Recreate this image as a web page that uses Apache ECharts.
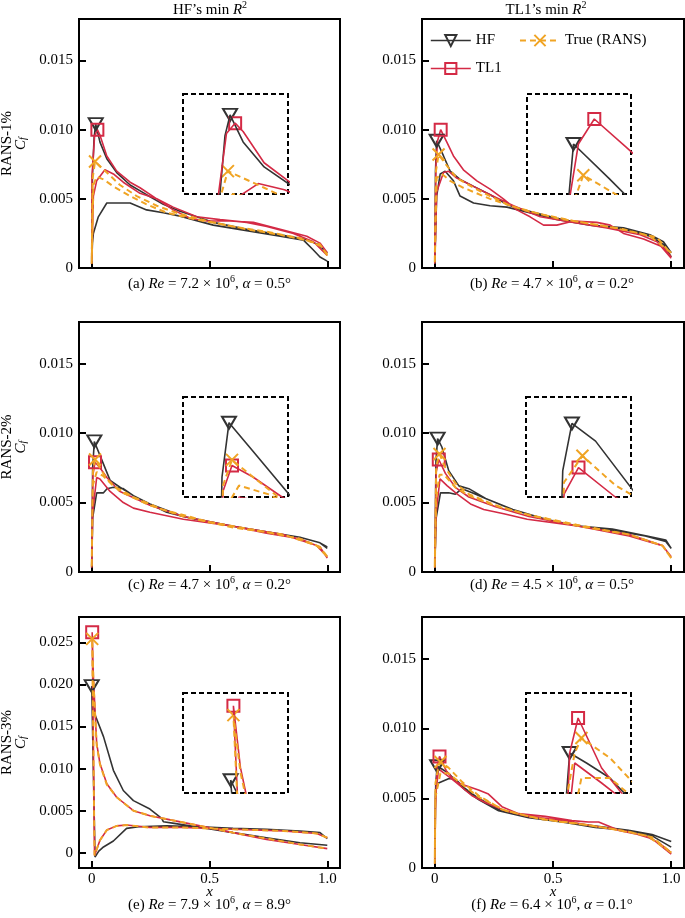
<!DOCTYPE html>
<html><head><meta charset="utf-8">
<script src="https://cdn.jsdelivr.net/npm/echarts@6/dist/echarts.min.js"></script>
<style>html,body{margin:0;padding:0;background:#fff}#c{width:685px;height:918px}</style>
</head><body><div id="c"></div>
<script>
// ---------------- DATA (x, Cf) ----------------
// Panel (a)
const a_HF_1 = [[0,0.0003],[0.003,0.0066],[0.010,0.0094],[0.017,0.0104],[0.035,0.0091],[0.064,0.0079],[0.106,0.0069],[0.163,0.0060],[0.233,0.0053],[0.304,0.0046],[0.375,0.0041],[0.516,0.0033],[0.658,0.0028],[0.8,0.0024],[0.913,0.00205],[0.96,0.0017],[1.0,0.0011]];
const a_HF_2 = [[0,0.0003],[0.003,0.0018],[0.007,0.0025],[0.028,0.0037],[0.064,0.0047],[0.163,0.0047],[0.233,0.0042],[0.304,0.0040],[0.375,0.00375],[0.516,0.0031],[0.658,0.0027],[0.8,0.0023],[0.9,0.0020],[0.941,0.0013],[0.969,0.0008],[1.0,0.0005]];
const a_TL1_1 = [[0,0.0003],[0.001,0.0066],[0.012,0.0095],[0.024,0.0100],[0.035,0.0096],[0.064,0.0081],[0.106,0.0070],[0.163,0.0062],[0.205,0.0058],[0.276,0.0050],[0.346,0.0044],[0.446,0.0037],[0.545,0.0035],[0.658,0.0033],[0.743,0.0030],[0.856,0.0025],[0.941,0.0019],[1.0,0.0009]];
const a_TL1_2 = [[0,0.0003],[0.007,0.0052],[0.021,0.0063],[0.056,0.0071],[0.092,0.0068],[0.134,0.0062],[0.205,0.0054],[0.276,0.0050],[0.346,0.0042],[0.417,0.0036],[0.488,0.0034],[0.587,0.0034],[0.686,0.0033],[0.8,0.0028],[0.913,0.0023],[0.969,0.0018],[1.0,0.0011]];
const a_TR_1 = [[0,0.0003],[0.004,0.0065],[0.014,0.0077],[0.064,0.0069],[0.12,0.0060],[0.191,0.0052],[0.276,0.0045],[0.375,0.0039],[0.516,0.0033],[0.658,0.0028],[0.8,0.0024],[0.913,0.0020],[0.969,0.0017],[1.0,0.0009]];
const a_TR_2 = [[0,0.0003],[0.007,0.0060],[0.021,0.0066],[0.05,0.0064],[0.092,0.0059],[0.163,0.0052],[0.233,0.0046],[0.318,0.0040],[0.446,0.0035],[0.6,0.0030],[0.75,0.0026],[0.9,0.0021],[0.969,0.0016],[1.0,0.0010]];
// Panel (b)
const b_HF_1 = [[0,0.0003],[0.003,0.0070],[0.008,0.0092],[0.037,0.0081],[0.065,0.0070],[0.107,0.0064],[0.164,0.0059],[0.234,0.0053],[0.305,0.0046],[0.375,0.0042],[0.516,0.0036],[0.657,0.0031],[0.798,0.0028],[0.91,0.0023],[0.967,0.0017],[1.0,0.0008]];
const b_HF_2 = [[0,0.0003],[0.008,0.0052],[0.023,0.0068],[0.044,0.0070],[0.079,0.0063],[0.107,0.0052],[0.164,0.0047],[0.234,0.0045],[0.305,0.0044],[0.375,0.0041],[0.516,0.0035],[0.657,0.0031],[0.798,0.0029],[0.91,0.0024],[0.967,0.0019],[1.0,0.0011]];
const b_TL1_1 = [[0,0.0003],[0.005,0.0075],[0.012,0.0092],[0.025,0.0100],[0.051,0.0091],[0.079,0.0081],[0.121,0.0071],[0.178,0.0063],[0.234,0.0057],[0.29,0.0050],[0.347,0.0042],[0.403,0.0037],[0.46,0.0031],[0.516,0.0031],[0.587,0.0034],[0.685,0.0033],[0.742,0.0031],[0.798,0.0025],[0.883,0.0021],[0.967,0.0015],[1.0,0.0008]];
const b_TL1_2 = [[0,0.0003],[0.008,0.0055],[0.037,0.0069],[0.058,0.0070],[0.093,0.0065],[0.164,0.0059],[0.234,0.0053],[0.333,0.0045],[0.446,0.0037],[0.587,0.0033],[0.728,0.0029],[0.869,0.0024],[0.94,0.0019],[1.0,0.0007]];
const b_TR_1 = [[0,0.0003],[0.005,0.0070],[0.016,0.0082],[0.051,0.0074],[0.093,0.0065],[0.164,0.0058],[0.234,0.0052],[0.319,0.0045],[0.446,0.0039],[0.587,0.0034],[0.728,0.0030],[0.869,0.0025],[0.94,0.0022],[1.0,0.0010]];
const b_TR_2 = [[0,0.0003],[0.008,0.0065],[0.03,0.0068],[0.065,0.0063],[0.121,0.0058],[0.234,0.0050],[0.375,0.0042],[0.516,0.0036],[0.657,0.0032],[0.798,0.0028],[0.91,0.0023],[1.0,0.0011]];
// Panel (c)
const c_HF_1 = [[0,0.0003],[0.004,0.0075],[0.011,0.0094],[0.035,0.0084],[0.078,0.0066],[0.12,0.0061],[0.177,0.0055],[0.247,0.0049],[0.318,0.0043],[0.389,0.0040],[0.495,0.0036],[0.6,0.0033],[0.742,0.0029],[0.884,0.0025],[0.969,0.0021],[1.0,0.0018]];
const c_HF_2 = [[0,0.0003],[0.004,0.0039],[0.021,0.0057],[0.05,0.0057],[0.065,0.0060],[0.092,0.0061],[0.134,0.0060],[0.177,0.0055],[0.247,0.0049],[0.389,0.0040],[0.6,0.0033],[0.742,0.0029],[0.884,0.0025],[0.969,0.0021],[1.0,0.0017]];
const c_TL1_1 = [[0,0.0003],[0.005,0.0070],[0.014,0.0079],[0.035,0.0075],[0.064,0.0068],[0.12,0.0058],[0.247,0.0048],[0.389,0.0040],[0.6,0.0033],[0.813,0.0027],[0.955,0.0019],[1.0,0.0011]];
const c_TL1_2 = [[0,0.0003],[0.004,0.0043],[0.021,0.0068],[0.035,0.0067],[0.078,0.0058],[0.134,0.0050],[0.177,0.0046],[0.247,0.0043],[0.389,0.0038],[0.6,0.0033],[0.742,0.0028],[0.884,0.0024],[0.969,0.0018],[1.0,0.0010]];
const c_TR_1 = [[0,0.0003],[0.005,0.0072],[0.014,0.0081],[0.035,0.0075],[0.064,0.0067],[0.12,0.0058],[0.247,0.0048],[0.389,0.0040],[0.6,0.0032],[0.813,0.0027],[0.955,0.0019],[1.0,0.0011]];
const c_TR_2 = [[0,0.0003],[0.004,0.0062],[0.021,0.0072],[0.05,0.0069],[0.092,0.0062],[0.177,0.0054],[0.3,0.0045],[0.5,0.0036],[0.7,0.0030],[0.884,0.0024],[0.969,0.0018],[1.0,0.0011]];
// Panel (d)
const d_HF_1 = [[0,0.0003],[0.005,0.0080],[0.012,0.0096],[0.03,0.0090],[0.059,0.0073],[0.102,0.0062],[0.144,0.0060],[0.215,0.0053],[0.328,0.0045],[0.469,0.0038],[0.61,0.0033],[0.751,0.0031],[0.892,0.0026],[0.977,0.0023],[1.0,0.0017]];
const d_HF_2 = [[0,0.0003],[0.006,0.0039],[0.024,0.0057],[0.059,0.0057],[0.087,0.0056],[0.115,0.0060],[0.158,0.0057],[0.215,0.0053],[0.33,0.0045],[0.47,0.0038],[0.61,0.0033],[0.75,0.0030],[0.89,0.0026],[0.977,0.0022],[1.0,0.0017]];
const d_TL1_1 = [[0,0.0003],[0.006,0.0072],[0.017,0.0081],[0.045,0.0071],[0.087,0.0061],[0.144,0.0054],[0.257,0.0047],[0.398,0.0040],[0.61,0.0033],[0.822,0.0026],[0.963,0.0019],[1.0,0.0011]];
const d_TL1_2 = [[0,0.0003],[0.006,0.0043],[0.022,0.0067],[0.053,0.0062],[0.095,0.0056],[0.151,0.0049],[0.207,0.0045],[0.292,0.0042],[0.391,0.0038],[0.61,0.0033],[0.822,0.0027],[0.963,0.0019],[1.0,0.0011]];
const d_TR_1 = [[0,0.0003],[0.006,0.0076],[0.02,0.0085],[0.045,0.0075],[0.087,0.0064],[0.144,0.0056],[0.257,0.0048],[0.398,0.0041],[0.61,0.0033],[0.822,0.0027],[0.963,0.0019],[1.0,0.0010]];
const d_TR_2 = [[0,0.0003],[0.006,0.0053],[0.02,0.0070],[0.04,0.0070],[0.087,0.0061],[0.144,0.0055],[0.25,0.0048],[0.4,0.0041],[0.6,0.0034],[0.82,0.0027],[0.963,0.0019],[1.0,0.0010]];
// Panel (e)
const e_HF_1 = [[0,0.0198],[0.014,0.0164],[0.05,0.0138],[0.092,0.0098],[0.134,0.0074],[0.177,0.0062],[0.247,0.0052],[0.297,0.0041],[0.304,0.0037],[0.35,0.0035],[0.463,0.0030],[0.6,0.0024],[0.742,0.0018],[0.884,0.0012],[1.0,0.0009]];
const e_HF_2 = [[0.014,-0.0005],[0.03,0.0002],[0.05,0.0007],[0.092,0.0014],[0.148,0.0029],[0.2,0.0031],[0.318,0.0032],[0.46,0.0031],[0.6,0.0029],[0.742,0.0028],[0.884,0.0026],[0.969,0.0024],[1.0,0.0017]];
const e_TL1_1 = [[0.002,0.0262],[0.007,0.0209],[0.021,0.0130],[0.035,0.0106],[0.064,0.0082],[0.106,0.0066],[0.177,0.0050],[0.247,0.0044],[0.318,0.0040],[0.46,0.0032],[0.6,0.0024],[0.742,0.0016],[0.884,0.0010],[1.0,0.0005]];
const e_TL1_2 = [[0.012,-0.0003],[0.035,0.0015],[0.064,0.0027],[0.106,0.0032],[0.148,0.0033],[0.247,0.0030],[0.389,0.0030],[0.6,0.0028],[0.813,0.0026],[0.955,0.0023],[1.0,0.0018]];
const e_TR_1 = [[0.002,0.0254],[0.007,0.0205],[0.021,0.0128],[0.035,0.0105],[0.064,0.0081],[0.106,0.0066],[0.177,0.0050],[0.247,0.0044],[0.318,0.0040],[0.46,0.0032],[0.6,0.0024],[0.742,0.0017],[0.884,0.0010],[1.0,0.0005]];
const e_TR_2 = [[0.012,-0.0003],[0.035,0.0015],[0.064,0.0027],[0.106,0.0032],[0.148,0.0033],[0.247,0.0030],[0.389,0.0030],[0.6,0.0028],[0.813,0.0026],[0.955,0.0023],[1.0,0.0018]];
// Panel (f)
const f_HF_1 = [[0,0.0003],[0.004,0.0060],[0.01,0.0073],[0.03,0.0071],[0.058,0.0068],[0.086,0.0063],[0.128,0.0056],[0.185,0.0049],[0.27,0.0041],[0.397,0.0036],[0.538,0.0033],[0.679,0.0029],[0.82,0.0027],[0.919,0.0023],[1.0,0.0015]];
const f_HF_2 = [[0,0.0003],[0.003,0.0055],[0.016,0.0061],[0.058,0.0064],[0.086,0.0064],[0.128,0.0057],[0.185,0.0050],[0.27,0.0042],[0.4,0.0036],[0.54,0.0033],[0.68,0.0030],[0.82,0.0027],[0.919,0.0024],[1.0,0.0019]];
const f_TL1_1 = [[0,0.0003],[0.003,0.0042],[0.01,0.0073],[0.02,0.0080],[0.048,0.0070],[0.086,0.0062],[0.114,0.0060],[0.185,0.0056],[0.227,0.0053],[0.284,0.0044],[0.354,0.0039],[0.467,0.0037],[0.58,0.0034],[0.65,0.0033],[0.693,0.0033],[0.778,0.0027],[0.891,0.0023],[0.948,0.0018],[1.0,0.0011]];
const f_TL1_2 = [[0,0.0003],[0.003,0.0051],[0.016,0.0071],[0.048,0.0067],[0.086,0.0062],[0.156,0.0052],[0.213,0.0047],[0.298,0.0041],[0.397,0.0037],[0.538,0.0034],[0.679,0.0030],[0.82,0.0026],[0.919,0.0021],[1.0,0.0010]];
const f_TR_1 = [[0,0.0003],[0.003,0.0061],[0.016,0.0073],[0.024,0.0076],[0.058,0.0072],[0.114,0.0062],[0.185,0.0052],[0.284,0.0042],[0.397,0.0037],[0.538,0.0033],[0.679,0.0030],[0.82,0.0026],[0.919,0.0022],[1.0,0.0011]];
const f_TR_2 = [[0,0.0003],[0.003,0.0051],[0.024,0.0068],[0.058,0.0068],[0.1,0.0062],[0.185,0.0051],[0.3,0.0041],[0.45,0.0035],[0.6,0.0032],[0.75,0.0028],[0.9,0.0023],[1.0,0.0011]];

// Labels / ticks
const panelLetters = ['a','b','c','d','e','f'];
const reValues = ['7.2','4.7','4.7','4.5','7.9','6.4'];
const alphaValues = ['0.5','0.2','0.2','0.5','8.9','0.1'];
const rowLabels = ['RANS-1%','RANS-2%','RANS-3%'];
const xTicks = [0, 0.5, 1.0];
const yTicks = [0, 0.005, 0.010, 0.015];
const yTicksE = [0, 0.005, 0.010, 0.015, 0.020, 0.025];
// inset windows [xmin, xmax, ymin, ymax]
const insetWindows = [
  [-0.048, 0.097, 0.0066, 0.0114],
  [-0.03, 0.055, 0.0076, 0.0108],
  [-0.035, 0.07, 0.0068, 0.0103],
  [-0.023, 0.057, 0.0071, 0.0105],
  [-0.034, 0.041, 0.0187, 0.0273],
  [-0.042, 0.083, 0.0065, 0.0085]
];
const yRanges = [[0,0.018],[0,0.018],[0,0.018],[0,0.018],[-0.0018,0.028],[0,0.018]];

const panelData = [
  {HF:[a_HF_1,a_HF_2], TR:[a_TR_1,a_TR_2], TL1:[a_TL1_1,a_TL1_2]},
  {HF:[b_HF_1,b_HF_2], TR:[b_TR_1,b_TR_2], TL1:[b_TL1_1,b_TL1_2]},
  {HF:[c_HF_1,c_HF_2], TR:[c_TR_1,c_TR_2], TL1:[c_TL1_1,c_TL1_2]},
  {HF:[d_HF_1,d_HF_2], TR:[d_TR_1,d_TR_2], TL1:[d_TL1_1,d_TL1_2]},
  {HF:[e_HF_1,e_HF_2], TR:[e_TR_1,e_TR_2], TL1:[e_TL1_1,e_TL1_2]},
  {HF:[f_HF_1,f_HF_2], TR:[f_TR_1,f_TR_2], TL1:[f_TL1_1,f_TL1_2]}
];

// ---------------- LAYOUT / STYLE ----------------
const FONT = "'Liberation Serif','Times New Roman',serif";
const C_HF = '#333333', C_TR = '#f0a424', C_TL1 = '#d42a45';
const CROSS = 'path://M0,0L10,10M10,0L0,10';
const STY = {
  HF:  {name:'HF', color:C_HF, width:1.6, dash:'solid', symbol:'triangle', rotate:180, size:[14,12], z:3},
  TL1: {name:'TL1', color:C_TL1, width:1.6, dash:'solid', symbol:'rect', rotate:0, size:12, z:4},
  TR:  {name:'True (RANS)', color:C_TR, width:2, dash:[6,4], symbol:CROSS, rotate:0, size:12, z:5}
};
const mainGrids = [
  {left:79, top:19, width:261, height:249},
  {left:422, top:19, width:262, height:249},
  {left:79, top:322, width:261, height:250},
  {left:422, top:322, width:262, height:250},
  {left:79, top:617, width:261, height:251},
  {left:422, top:617, width:262, height:251}
];
const insetGrids = [
  {left:183, top:94, width:105, height:100},
  {left:527, top:94, width:104, height:100},
  {left:183, top:397, width:105, height:100},
  {left:526, top:397, width:105, height:100},
  {left:183, top:693, width:105, height:100},
  {left:526, top:693, width:105, height:100}
];
const captionPos = [[209.5,284],[552,284],[209.5,585],[552,585],[209.5,905],[552,905]];

function loop(pair){ return pair[1].slice().reverse().concat(pair[0]); }

const grid = [], xAxis = [], yAxis = [], series = [];
const richBase = {
  i:{fontFamily:FONT, fontSize:15, fontStyle:'italic', lineHeight:20, color:'#000'},
  n:{fontFamily:FONT, fontSize:15, lineHeight:20, color:'#000'},
  sup:{fontFamily:FONT, fontSize:10, lineHeight:11, verticalAlign:'top', color:'#000'},
  sub:{fontFamily:FONT, fontSize:10, fontStyle:'italic', lineHeight:11, verticalAlign:'bottom', color:'#000'}
};
const richName = {
  i:{fontFamily:FONT, fontSize:15, fontStyle:'italic', lineHeight:14, color:'#000'},
  n:{fontFamily:FONT, fontSize:15, lineHeight:14, color:'#000'},
  sub:{fontFamily:FONT, fontSize:10, fontStyle:'italic', lineHeight:8, verticalAlign:'bottom', color:'#000'}
};

function makeSeries(gi, k, data, inset) {
  const s = STY[k];
  return {
    type:'line', name:s.name, xAxisIndex:gi, yAxisIndex:gi, data:data,
    symbol:s.symbol, symbolRotate:s.rotate, symbolSize:s.size, showSymbol:false,
    lineStyle:{color:s.color, width:s.width, type:s.dash},
    itemStyle:{color:'rgba(0,0,0,0)', borderColor:s.color, borderWidth:2},
    markPoint:{
      symbol:s.symbol, symbolRotate:s.rotate, symbolSize:s.size, silent:true, animation:false,
      label:{show:false},
      itemStyle:{color:'rgba(0,0,0,0)', borderColor:s.color, borderWidth:2},
      data:[{type:'max', valueDim:'y'}]
    },
    z:s.z + (inset ? 10 : 0), clip:true, silent:true, animation:false, emphasis:{disabled:true}
  };
}

for (let p = 0; p < 6; p++) {
  const g = mainGrids[p];
  grid.push(Object.assign({show:true, borderColor:'#000', borderWidth:2, backgroundColor:'transparent', containLabel:false, outerBoundsMode:'none'}, g));
  const bottomRow = p >= 4, leftCol = p % 2 === 0;
  const gi = grid.length - 1;
  xAxis.push({
    type:'value', gridIndex:gi, min:-0.054, max:1.054, position:'bottom',
    axisLine:{show:false, onZero:false}, splitLine:{show:false},
    axisTick:{show:true, inside:true, length:7, lineStyle:{color:'#000', width:2}, customValues:xTicks},
    axisLabel:{show:bottomRow, customValues:xTicks, margin:4, fontFamily:FONT, fontSize:15, color:'#000',
      formatter:v => v === 0 ? '0' : v.toFixed(1)},
    name: bottomRow ? 'x' : '', nameLocation:'middle', nameGap:17, nameMoveOverlap:false,
    nameTextStyle:{fontFamily:FONT, fontSize:15, fontStyle:'italic', color:'#000'}
  });
  const yr = yRanges[p];
  yAxis.push({
    type:'value', gridIndex:gi, min:yr[0], max:yr[1], position:'left',
    axisLine:{show:false, onZero:false}, splitLine:{show:false},
    axisTick:{show:true, inside:true, length:7, lineStyle:{color:'#000', width:2}, customValues: p===4 ? yTicksE : yTicks},
    axisLabel:{show:true, customValues: p===4 ? yTicksE : yTicks, margin:6, fontFamily:FONT, fontSize:15, color:'#000',
      formatter:v => v === 0 ? '0' : v.toFixed(3)},
    name: leftCol ? ('{n|' + rowLabels[p/2] + '}\n{i|C}{sub|f}') : '',
    nameLocation:'middle', nameRotate:90, nameGap:51, nameMoveOverlap:false,
    nameTextStyle:{rich:richName, lineHeight:14}
  });
  ['HF','TL1','TR'].forEach(k => series.push(makeSeries(gi, k, loop(panelData[p][k]))));

  // inset
  const ig = insetGrids[p], w = insetWindows[p];
  grid.push(Object.assign({show:true, borderColor:'#000', borderWidth:2, borderType:[5,3], backgroundColor:'#fff', containLabel:false, outerBoundsMode:'none'}, ig));
  const ii = grid.length - 1;
  xAxis.push({type:'value', gridIndex:ii, min:w[0], max:w[1], show:false, splitLine:{show:false}});
  yAxis.push({type:'value', gridIndex:ii, min:w[2], max:w[3], show:false, splitLine:{show:false}});
  ['HF','TL1','TR'].forEach(k => series.push(makeSeries(ii, k, loop(panelData[p][k]), true)));
}

const graphic = [];
for (let p = 0; p < 6; p++) {
  const cp = captionPos[p];
  graphic.push({type:'text', x:cp[0], y:cp[1], silent:true, style:{
    text:'{n|(' + panelLetters[p] + ') }{i|Re}{n| = ' + reValues[p] + ' × 10}{sup|6}{n|, }{i|α}{n| = ' + alphaValues[p] + '°}',
    rich:richBase, align:'center', verticalAlign:'middle'}});
}
graphic.push({type:'text', x:210, y:10, silent:true, style:{
  text:"{n|HF’s min }{i|R}{sup|2}", rich:richBase, align:'center', verticalAlign:'middle'}});
const redRich = {
  i:Object.assign({}, richBase.i, {color:C_TL1}),
  n:Object.assign({}, richBase.n, {color:C_TL1}),
  sup:Object.assign({}, richBase.sup, {color:C_TL1})
};
graphic.push({type:'text', x:546, y:10, silent:true, style:{
  text:"{n|TL1’s min }{i|R}{sup|2}", rich:redRich, align:'center', verticalAlign:'middle'}});

const legendText = {fontFamily:FONT, fontSize:15, color:'#000'};
function legendItem(k){
  const s = STY[k];
  return {name:s.name, itemStyle:{color:'rgba(0,0,0,0)', borderColor:s.color, borderWidth:2},
    lineStyle:{color:s.color, width:s.width, type:s.dash}};
}
const option = {
  backgroundColor:'#fff',
  animation:false,
  grid, xAxis, yAxis, series, graphic,
  legend:[
    {left:430, top:33, itemWidth:40, itemHeight:14, itemGap:24, padding:0, selectedMode:false,
      textStyle:legendText, data:[legendItem('HF'), legendItem('TR')]},
    {left:430, top:61, itemWidth:40, itemHeight:14, padding:0, selectedMode:false,
      textStyle:legendText, data:[legendItem('TL1')]}
  ]
};
const chart = echarts.init(document.getElementById('c'), null, {renderer:'canvas'});
chart.setOption(option);
</script></body></html>
